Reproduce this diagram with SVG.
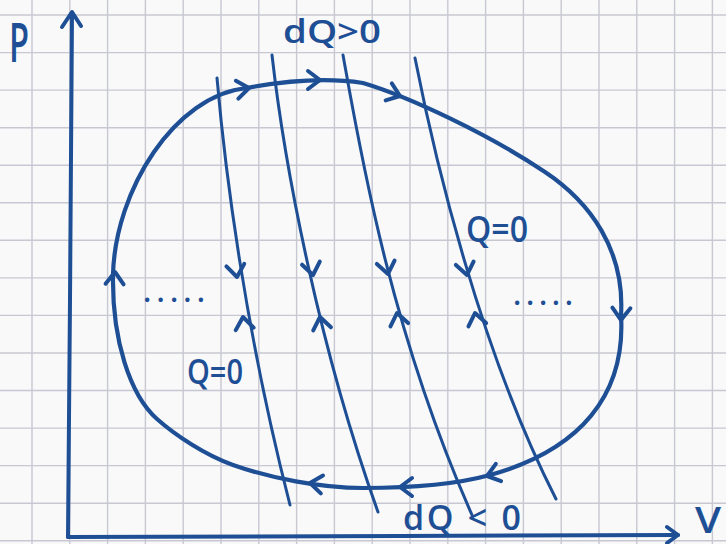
<svg xmlns="http://www.w3.org/2000/svg" xmlns:xlink="http://www.w3.org/1999/xlink" width="726" height="544" viewBox="0 0 726 544">
<style>
.grid line{stroke:#c7c8d1;stroke-width:1.4}
.ink{fill:none;stroke:#1e4f95;stroke-linecap:round;stroke-linejoin:round}
.loop{stroke-width:4.2}
.adi{stroke-width:3}
.axis{stroke-width:4}
.lbl{font-family:"Open Sans","Liberation Sans",sans-serif;font-weight:600;fill:#1e4f95}
</style>
<defs>
<path id="chev" d="M-12,-9 L0,0 L-12,9" class="ink" stroke-width="4"/>
</defs>
<rect width="726" height="544" fill="#f9f9fa"/>
<g class="grid">
<line x1="32" y1="0" x2="32" y2="544"/>
<line x1="69.8" y1="0" x2="69.8" y2="544"/>
<line x1="107.6" y1="0" x2="107.6" y2="544"/>
<line x1="145.4" y1="0" x2="145.4" y2="544"/>
<line x1="183.2" y1="0" x2="183.2" y2="544"/>
<line x1="221" y1="0" x2="221" y2="544"/>
<line x1="258.8" y1="0" x2="258.8" y2="544"/>
<line x1="296.6" y1="0" x2="296.6" y2="544"/>
<line x1="334.4" y1="0" x2="334.4" y2="544"/>
<line x1="372.2" y1="0" x2="372.2" y2="544"/>
<line x1="410" y1="0" x2="410" y2="544"/>
<line x1="447.8" y1="0" x2="447.8" y2="544"/>
<line x1="485.6" y1="0" x2="485.6" y2="544"/>
<line x1="523.4" y1="0" x2="523.4" y2="544"/>
<line x1="561.2" y1="0" x2="561.2" y2="544"/>
<line x1="599" y1="0" x2="599" y2="544"/>
<line x1="636.8" y1="0" x2="636.8" y2="544"/>
<line x1="674.6" y1="0" x2="674.6" y2="544"/>
<line x1="712.4" y1="0" x2="712.4" y2="544"/>
<line x1="0" y1="15" x2="726" y2="15"/>
<line x1="0" y1="52.6" x2="726" y2="52.6"/>
<line x1="0" y1="90.1" x2="726" y2="90.1"/>
<line x1="0" y1="127.7" x2="726" y2="127.7"/>
<line x1="0" y1="165.2" x2="726" y2="165.2"/>
<line x1="0" y1="202.8" x2="726" y2="202.8"/>
<line x1="0" y1="240.3" x2="726" y2="240.3"/>
<line x1="0" y1="277.9" x2="726" y2="277.9"/>
<line x1="0" y1="315.4" x2="726" y2="315.4"/>
<line x1="0" y1="353" x2="726" y2="353"/>
<line x1="0" y1="390.5" x2="726" y2="390.5"/>
<line x1="0" y1="428.1" x2="726" y2="428.1"/>
<line x1="0" y1="465.6" x2="726" y2="465.6"/>
<line x1="0" y1="503.2" x2="726" y2="503.2"/>
<line x1="0" y1="540.7" x2="726" y2="540.7"/>
</g>
<g id="axes">
<path class="ink axis" d="M68,537 L70,300 L72,13"/>
<path class="ink axis" d="M62,27 L72,12 L81,26"/>
<path class="ink axis" d="M68,537 L400,536 L678,535"/>
<path class="ink axis" d="M667,527 L678,535 L667,543"/>
<text class="lbl" x="9" y="62" font-size="54" font-weight="400" textLength="20" lengthAdjust="spacingAndGlyphs">P</text>
<text class="lbl" x="695" y="533" font-size="36" font-weight="400" textLength="26" lengthAdjust="spacingAndGlyphs">V</text>
</g>
<g id="cycle">
<path class="ink loop" d="M113,275 C115,190 175,95 247,88 C290,80 330,78 363,83 C410,97 490,135 545,172 C590,202 625,250 621,315 C626,395 580,450 490,475 C450,486 400,488 363,488 C320,488 270,478 233,465 C205,455 175,435 157,419 C130,395 112,340 113,275 Z"/>
<use xlink:href="#chev" transform="translate(115,272) rotate(-88)"/>
<use xlink:href="#chev" transform="translate(249,88) rotate(-8)"/>
<use xlink:href="#chev" transform="translate(320,80) rotate(0)"/>
<use xlink:href="#chev" transform="translate(400,96) rotate(20)"/>
<use xlink:href="#chev" transform="translate(621,320) rotate(92)"/>
<use xlink:href="#chev" transform="translate(487,476) rotate(163)"/>
<use xlink:href="#chev" transform="translate(400,487) rotate(180)"/>
<use xlink:href="#chev" transform="translate(310,483) rotate(187)"/>
</g>
<g id="adiabats">
<path class="ink adi" d="M217,78 C225,170 245,330 290,505"/>
<path class="ink adi" d="M272,55 C285,170 320,350 378,512"/>
<path class="ink adi" d="M343,55 C360,150 390,330 472,515"/>
<path class="ink adi" d="M415,58 C435,160 480,350 556,499"/>
<use xlink:href="#chev" transform="translate(237,277) rotate(82)"/>
<use xlink:href="#chev" transform="translate(313,275) rotate(80)"/>
<use xlink:href="#chev" transform="translate(388,274) rotate(79)"/>
<use xlink:href="#chev" transform="translate(467,275) rotate(79)"/>
<use xlink:href="#chev" transform="translate(243,317) rotate(-98)"/>
<use xlink:href="#chev" transform="translate(320,317) rotate(-100)"/>
<use xlink:href="#chev" transform="translate(397,313) rotate(-101)"/>
<use xlink:href="#chev" transform="translate(475,313) rotate(-101)"/>
</g>
<g id="labels">
<text class="lbl" x="283" y="43" font-size="32" textLength="98" lengthAdjust="spacingAndGlyphs">dQ&gt;0</text>
<text class="lbl" x="466" y="242" font-size="36" textLength="62" lengthAdjust="spacingAndGlyphs">Q=0</text>
<text class="lbl" x="187" y="384" font-size="34" textLength="56" lengthAdjust="spacingAndGlyphs">Q=0</text>
<text class="lbl" x="403" y="530" font-size="34" textLength="118" lengthAdjust="spacing">dQ &lt; 0</text>
<text class="lbl" x="143" y="302" font-size="30" font-weight="700" textLength="62" lengthAdjust="spacing">.....</text>
<text class="lbl" x="513" y="305" font-size="30" font-weight="700" textLength="60" lengthAdjust="spacing">.....</text>
</g>
</svg>
